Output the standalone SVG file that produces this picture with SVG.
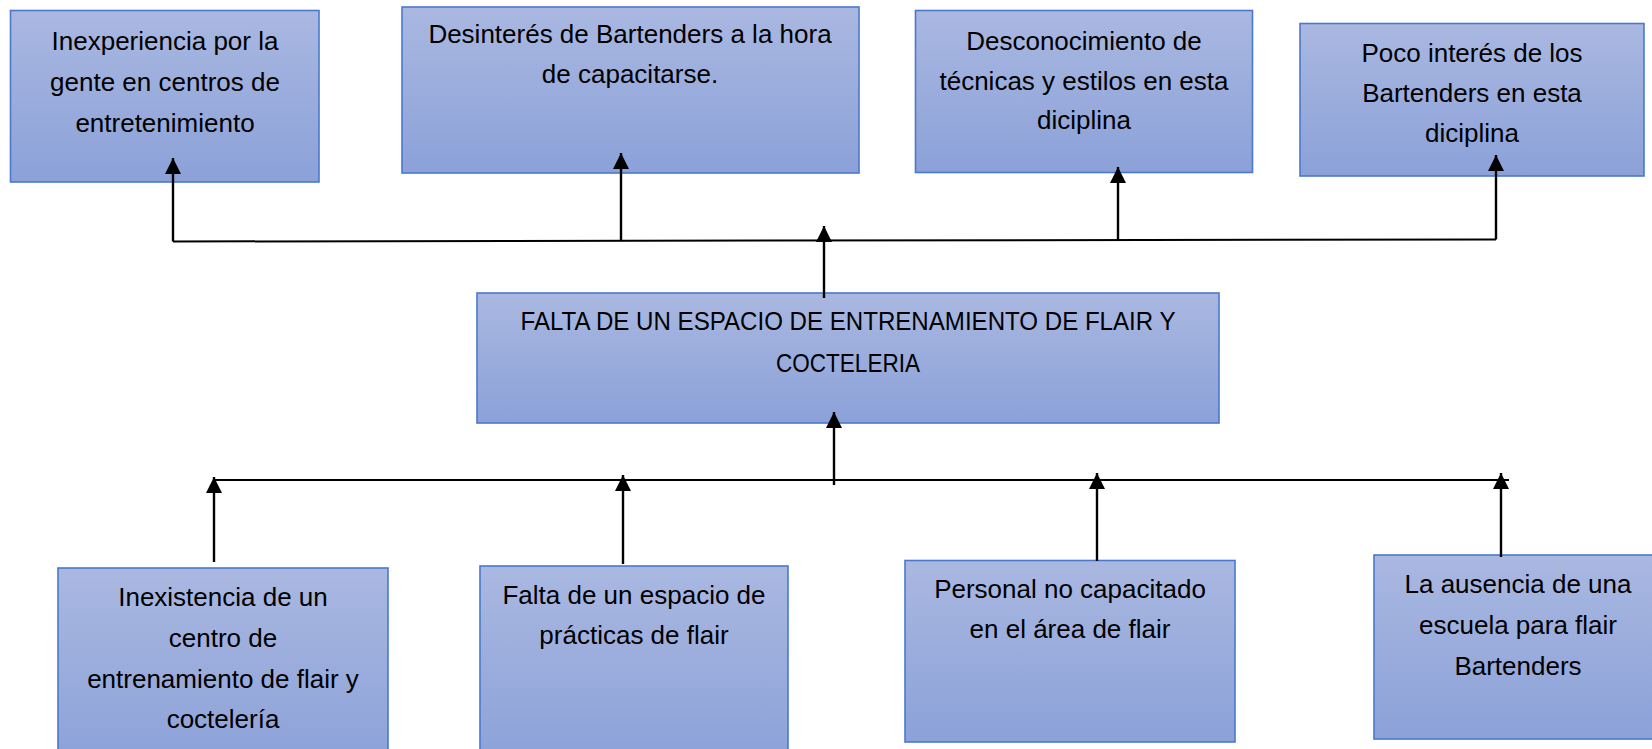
<svg xmlns="http://www.w3.org/2000/svg" width="1652" height="749" viewBox="0 0 1652 749">
<style>
.box{fill:url(#g);stroke:#4A78CC;stroke-width:1.6}
.t{font-family:"Liberation Sans",Arial,sans-serif;font-size:26px;fill:#000;text-anchor:middle}
.c{fill:none;stroke:#000;stroke-width:2.4}
.h{fill:none;stroke:#000;stroke-width:2}
</style>
<defs>
<linearGradient id="g" x1="0" y1="0" x2="0" y2="1">
<stop offset="0" stop-color="#AAB8E1"/>
<stop offset="1" stop-color="#8BA1D8"/>
</linearGradient>
<marker id="ah" markerUnits="userSpaceOnUse" markerWidth="16" markerHeight="16" refX="16" refY="8" orient="auto">
<path d="M0,0 L16,8 L0,16 z" fill="#000"/>
</marker>
</defs>

<g id="n1">
<rect class="box" x="10.5" y="10.5" width="308.5" height="171.5"/>
<text class="t" x="165" y="50">Inexperiencia por la</text>
<text class="t" x="165" y="91">gente en centros de</text>
<text class="t" x="165" y="132">entretenimiento</text>
</g>
<g id="n2">
<rect class="box" x="402" y="7" width="457" height="166"/>
<text class="t" x="630" y="43">Desinterés de Bartenders a la hora</text>
<text class="t" x="630" y="83">de capacitarse.</text>
</g>
<g id="n3">
<rect class="box" x="915.5" y="10.5" width="337" height="162"/>
<text class="t" x="1084" y="50">Desconocimiento de</text>
<text class="t" x="1084" y="90">técnicas y estilos en esta</text>
<text class="t" x="1084" y="129">diciplina</text>
</g>
<g id="n4">
<rect class="box" x="1300" y="23.5" width="344" height="152.5"/>
<text class="t" x="1472" y="62">Poco interés de los</text>
<text class="t" x="1472" y="102">Bartenders en esta</text>
<text class="t" x="1472" y="142">diciplina</text>
</g>
<g id="center">
<rect class="box" x="477" y="293" width="742" height="130"/>
<text class="t" x="848" y="330" textLength="655" lengthAdjust="spacingAndGlyphs">FALTA DE UN ESPACIO DE ENTRENAMIENTO DE FLAIR Y</text>
<text class="t" x="848" y="372" textLength="144" lengthAdjust="spacingAndGlyphs">COCTELERIA</text>
</g>
<g id="b1">
<rect class="box" x="58" y="568" width="330" height="200"/>
<text class="t" x="223" y="606">Inexistencia de un</text>
<text class="t" x="223" y="647">centro de</text>
<text class="t" x="223" y="688">entrenamiento de flair y</text>
<text class="t" x="223" y="728">coctelería</text>
</g>
<g id="b2">
<rect class="box" x="480" y="566" width="308" height="200"/>
<text class="t" x="634" y="604">Falta de un espacio de</text>
<text class="t" x="634" y="644">prácticas de flair</text>
</g>
<g id="b3">
<rect class="box" x="905" y="560.5" width="330" height="181.5"/>
<text class="t" x="1070" y="598">Personal no capacitado</text>
<text class="t" x="1070" y="638">en el área de flair</text>
</g>
<g id="b4">
<rect class="box" x="1374" y="555" width="290" height="184"/>
<text class="t" x="1518" y="593">La ausencia de una</text>
<text class="t" x="1518" y="634">escuela para flair</text>
<text class="t" x="1518" y="675">Bartenders</text>
</g>

<g id="connectors">
<polyline class="h" points="173,241.5 1496,239.5"/>
<line class="c" x1="173" y1="241.5" x2="173" y2="158" marker-end="url(#ah)"/>
<line class="c" x1="621" y1="241" x2="621" y2="153" marker-end="url(#ah)"/>
<line class="c" x1="824" y1="298" x2="824" y2="226" marker-end="url(#ah)"/>
<line class="c" x1="1118" y1="240" x2="1118" y2="167" marker-end="url(#ah)"/>
<line class="c" x1="1496" y1="239.5" x2="1496" y2="155" marker-end="url(#ah)"/>

<line class="h" x1="214" y1="480" x2="1509" y2="480"/>
<line class="c" x1="834" y1="485" x2="834" y2="412" marker-end="url(#ah)"/>
<line class="c" x1="214" y1="562" x2="214" y2="477" marker-end="url(#ah)"/>
<line class="c" x1="623" y1="564" x2="623" y2="475" marker-end="url(#ah)"/>
<line class="c" x1="1097" y1="561" x2="1097" y2="473" marker-end="url(#ah)"/>
<line class="c" x1="1501" y1="557" x2="1501" y2="473" marker-end="url(#ah)"/>
</g>
</svg>
